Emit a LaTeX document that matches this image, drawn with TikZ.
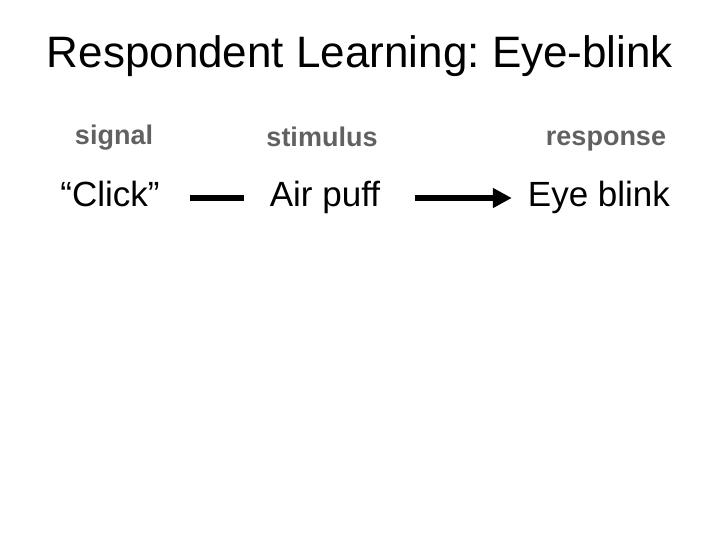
\documentclass[tikz,border=0pt]{standalone}
\usepackage{fontspec}
\setmainfont[Ligatures={TeX,NoCommon}]{Liberation Sans}
\usetikzlibrary{arrows.meta}
\definecolor{labelgray}{rgb}{0.38,0.38,0.38}
\frenchspacing

\begin{document}
\begin{tikzpicture}[x=1pt,y=-1pt]
	\tikzstyle{every node} =[inner sep=0pt, anchor=base];
	\tikzstyle{head} =[font=\bfseries\fontsize{27}{32}\selectfont, text=labelgray];
	\tikzstyle{item} =[font=\fontsize{35}{42}\selectfont, text height=25pt, text depth=7pt];
	\tikzstyle{link} =[line width=6.5pt, shorten <=30pt, shorten >=26pt];
	\useasboundingbox (0,0) rectangle (720,540);
	\node (title) at (360, 68) {\fontsize{44}{52}\selectfont Respondent Learning: Eye-blink};

	\node [head] (signal) at (114, 145) {signal};
	\node [head] (stim) at (322, 147) {stimulus};
	\node [head] (resp) at (606, 146) {response};

	\node [item] (click) at (110, 207) {“Click”};
	\node [item] (air) at (325, 207) {Air puff};
	\node [item] (blink) at (599, 207) {Eye blink};

	\draw [link] (click.east) -- (air.west);
	\draw [link, shorten <=35pt, shorten >=16pt, -{Triangle[length=19pt, width=19pt]}] (air.east) -- (blink.west);
\end{tikzpicture}
\end{document}
